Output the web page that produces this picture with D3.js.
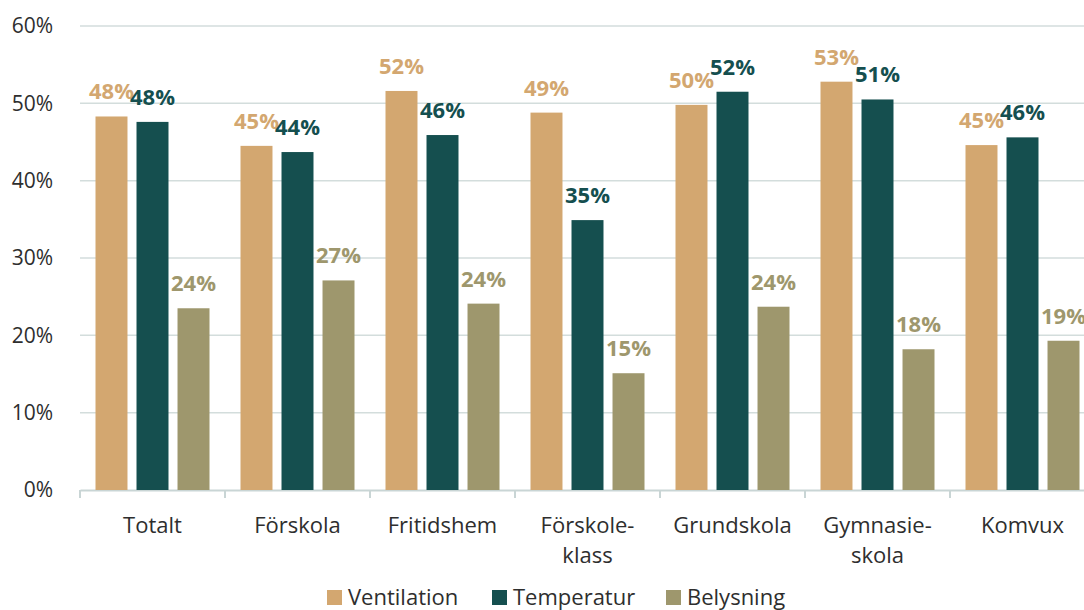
<!DOCTYPE html>
<html>
<head>
<meta charset="utf-8">
<script src="https://cdn.jsdelivr.net/npm/d3@7"></script>
<style>
  body { margin: 0; background: #fff; }
  text { font-family: "Open Sans", "Noto Sans", sans-serif; }
</style>
</head>
<body>
<div id="chartArea"></div>
<script>
var categories = [["Totalt"], ["Förskola"], ["Fritidshem"], ["Förskole-", "klass"], ["Grundskola"], ["Gymnasie-", "skola"], ["Komvux"]];
var seriesNames = ["Ventilation", "Temperatur", "Belysning"];
var ventilation = [48.3, 44.5, 51.6, 48.8, 49.8, 52.8, 44.6];
var temperatur = [47.6, 43.7, 45.9, 34.9, 51.5, 50.5, 45.6];
var belysning = [23.5, 27.1, 24.1, 15.1, 23.7, 18.2, 19.3];
var yTicks = [0, 10, 20, 30, 40, 50, 60];
var colors = ["#d3a770", "#154f4f", "#9e976d"];

var margin = { top: 26, left: 80 },
  width = 1015,
  height = 464;

var data = categories.map(function (c, i) {
  return { key: c.join(""), lines: c, values: [ventilation[i], temperatur[i], belysning[i]] };
});

var svg = d3.select("#chartArea").append("svg")
  .attr("width", 1084)
  .attr("height", 610)
  .append("g")
  .attr("transform", "translate(" + margin.left + "," + margin.top + ")");

var x0 = d3.scaleBand()
  .domain(data.map(function (d) { return d.key; }))
  .range([0, width]);

var x1 = d3.scaleBand()
  .domain(seriesNames)
  .range([15.5, x0.bandwidth() - 15.5])
  .paddingInner(0.22);

var y = d3.scaleLinear()
  .domain([0, 60])
  .range([height, 0]);

// gridlines
svg.selectAll(".grid")
  .data(yTicks.slice(1))
  .enter().append("line")
  .attr("x1", 0)
  .attr("x2", width)
  .attr("y1", function (d) { return y(d); })
  .attr("y2", function (d) { return y(d); })
  .attr("stroke", "#d3dddc")
  .attr("stroke-width", 1.5);

// y labels
svg.selectAll(".ylab")
  .data(yTicks)
  .enter().append("text")
  .attr("x", -27)
  .attr("y", function (d) { return y(d); })
  .attr("dy", "0.35em")
  .style("text-anchor", "end")
  .style("font-size", "21px")
  .style("fill", "#2e2e2e")
  .text(function (d) { return d + "%"; });

// x axis
var xAxis = d3.axisBottom(x0).tickSize(0).tickFormat("");
svg.append("g")
  .attr("transform", "translate(0," + height + ")")
  .call(xAxis)
  .select(".domain").attr("stroke", "#c9d5d5").attr("stroke-width", 2);

svg.selectAll(".xtick")
  .data(d3.range(categories.length + 1))
  .enter().append("line")
  .attr("x1", function (i) { return i * x0.step(); })
  .attr("x2", function (i) { return i * x0.step(); })
  .attr("y1", height)
  .attr("y2", height + 8)
  .attr("stroke", "#c9d5d5")
  .attr("stroke-width", 2);

var groups = svg.selectAll(".group")
  .data(data)
  .enter().append("g")
  .attr("transform", function (d) { return "translate(" + x0(d.key) + ",0)"; });

groups.selectAll("rect")
  .data(function (d) { return d.values.map(function (v, i) { return { s: seriesNames[i], v: v, i: i }; }); })
  .enter().append("rect")
  .attr("x", function (d) { return x1(d.s); })
  .attr("width", x1.bandwidth())
  .attr("y", function (d) { return y(d.v); })
  .attr("height", function (d) { return height - y(d.v); })
  .style("fill", function (d) { return colors[d.i]; });

groups.selectAll(".lab")
  .data(function (d) { return d.values.map(function (v, i) { return { s: seriesNames[i], v: v, i: i }; }); })
  .enter().append("text")
  .attr("x", function (d) { return x1(d.s) + x1.bandwidth() / 2; })
  .attr("y", function (d) { return y(d.v) - 17; })
  .style("text-anchor", "middle")
  .style("font-size", "22px")
  .style("font-weight", "bold")
  .style("fill", function (d) { return colors[d.i]; })
  .text(function (d) { return Math.round(d.v) + "%"; });

// category labels
var catText = groups.append("text")
  .attr("x", x0.bandwidth() / 2)
  .attr("y", height + 43)
  .style("text-anchor", "middle")
  .style("font-size", "22px")
  .style("fill", "#2e2e2e");

catText.selectAll("tspan")
  .data(function (d) { return d.lines; })
  .enter().append("tspan")
  .attr("x", x0.bandwidth() / 2)
  .attr("dy", function (d, i) { return i === 0 ? 0 : 30; })
  .text(function (d) { return d; });

// legend
var legendX = [327, 492, 666];
var legend = d3.select("svg").selectAll(".legend")
  .data(seriesNames)
  .enter().append("g")
  .attr("transform", function (d, i) { return "translate(" + legendX[i] + ",590)"; });

legend.append("rect")
  .attr("width", 15)
  .attr("height", 15)
  .style("fill", function (d, i) { return colors[i]; });

legend.append("text")
  .attr("x", 21)
  .attr("y", 7.5)
  .attr("dy", "0.35em")
  .style("font-size", "22px")
  .style("fill", "#2e2e2e")
  .text(function (d) { return d; });
</script>
</body>
</html>
